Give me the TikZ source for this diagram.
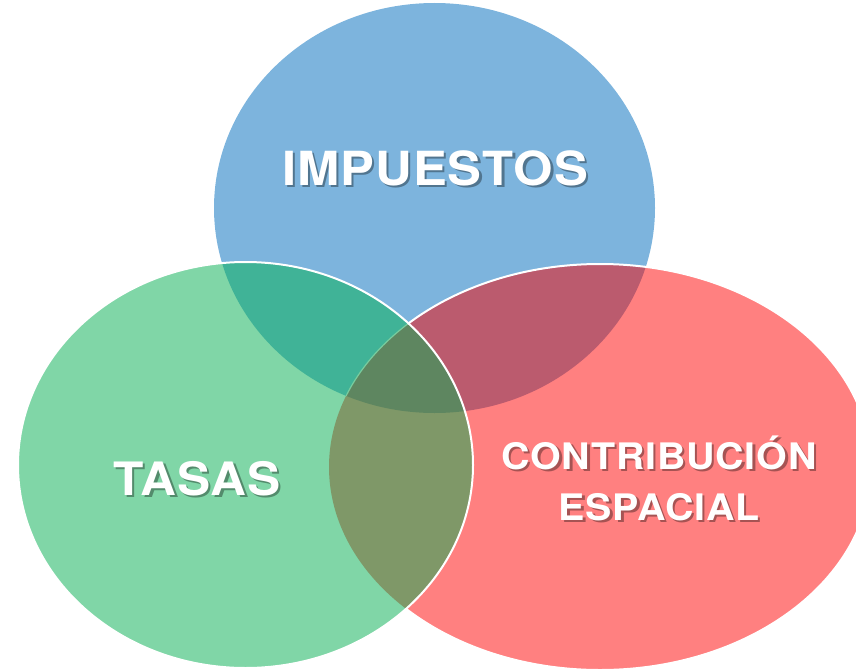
\documentclass[tikz,border=0pt]{standalone}
\usepackage{fontspec}
\newfontfamily\lblfont[LetterSpace=2]{texgyreheros-bold.otf}
\definecolor{cblue}{RGB}{125,180,221}
\definecolor{cgreen}{RGB}{128,214,167}
\definecolor{cred}{RGB}{255,128,128}
\definecolor{cbg}{RGB}{64,179,151}
\definecolor{cbr}{RGB}{187,91,110}
\definecolor{cgr}{RGB}{127,152,104}
\definecolor{cbgr}{RGB}{94,134,96}
\definecolor{cfaint}{RGB}{120,204,158}
\tikzset{
  bluepath/.style={insert path={(434.5,208) ellipse [x radius=220.5, y radius=205]}},
  greenpath/.style={insert path={(245.5,465) ellipse [x radius=227.5, y radius=203]}},
  redpath/.style={insert path={(600,467) ellipse [x radius=271, y radius=203]}},
  rim/.style={draw=white, line width=2pt},
  lbl/.style={text=white, anchor=base, align=center, xscale=1.08, transform shape},
  lblshadow/.style={text=black, opacity=0.35, anchor=base, align=center, xscale=1.08, transform shape}
}
\begin{document}
\begin{tikzpicture}[x=1pt,y=-1pt]
\useasboundingbox (0,0) rectangle (856,669);
\begin{scope}
\clip (0,0) rectangle (856,669);
% base fills
\fill[cblue, bluepath];
\fill[cred, redpath];
\begin{scope}
  \clip[bluepath];
  \fill[cbr, redpath];
\end{scope}
\path[rim, redpath];
% green and its overlaps on top
\fill[cgreen, greenpath];
\begin{scope}
  \clip[greenpath];
  \fill[cbg, bluepath];
  \fill[cgr, redpath];
  \clip[bluepath];
  \fill[cbgr, redpath];
  \path[draw=cfaint, line width=1.2pt, redpath];
\end{scope}
\path[rim, greenpath];
\end{scope}
% labels
\node[lblshadow, font=\lblfont\fontsize{47}{56}\selectfont] at (437.5,187.5) {IMPUESTOS};
\node[lbl, font=\lblfont\fontsize{47}{56}\selectfont] (imp) at (435,185) {IMPUESTOS};
\node[lblshadow, font=\lblfont\fontsize{46}{56}\selectfont] at (199.5,497.5) {TASAS};
\node[lbl, font=\lblfont\fontsize{46}{56}\selectfont] (tas) at (197,495) {TASAS};
\node[lblshadow, font=\lblfont\fontsize{36.5}{51}\selectfont] at (661.5,522.5) {CONTRIBUCIÓN\\ESPACIAL};
\node[lbl, font=\lblfont\fontsize{36.5}{51}\selectfont] (con) at (659,520) {CONTRIBUCIÓN\\ESPACIAL};
\end{tikzpicture}
\end{document}
